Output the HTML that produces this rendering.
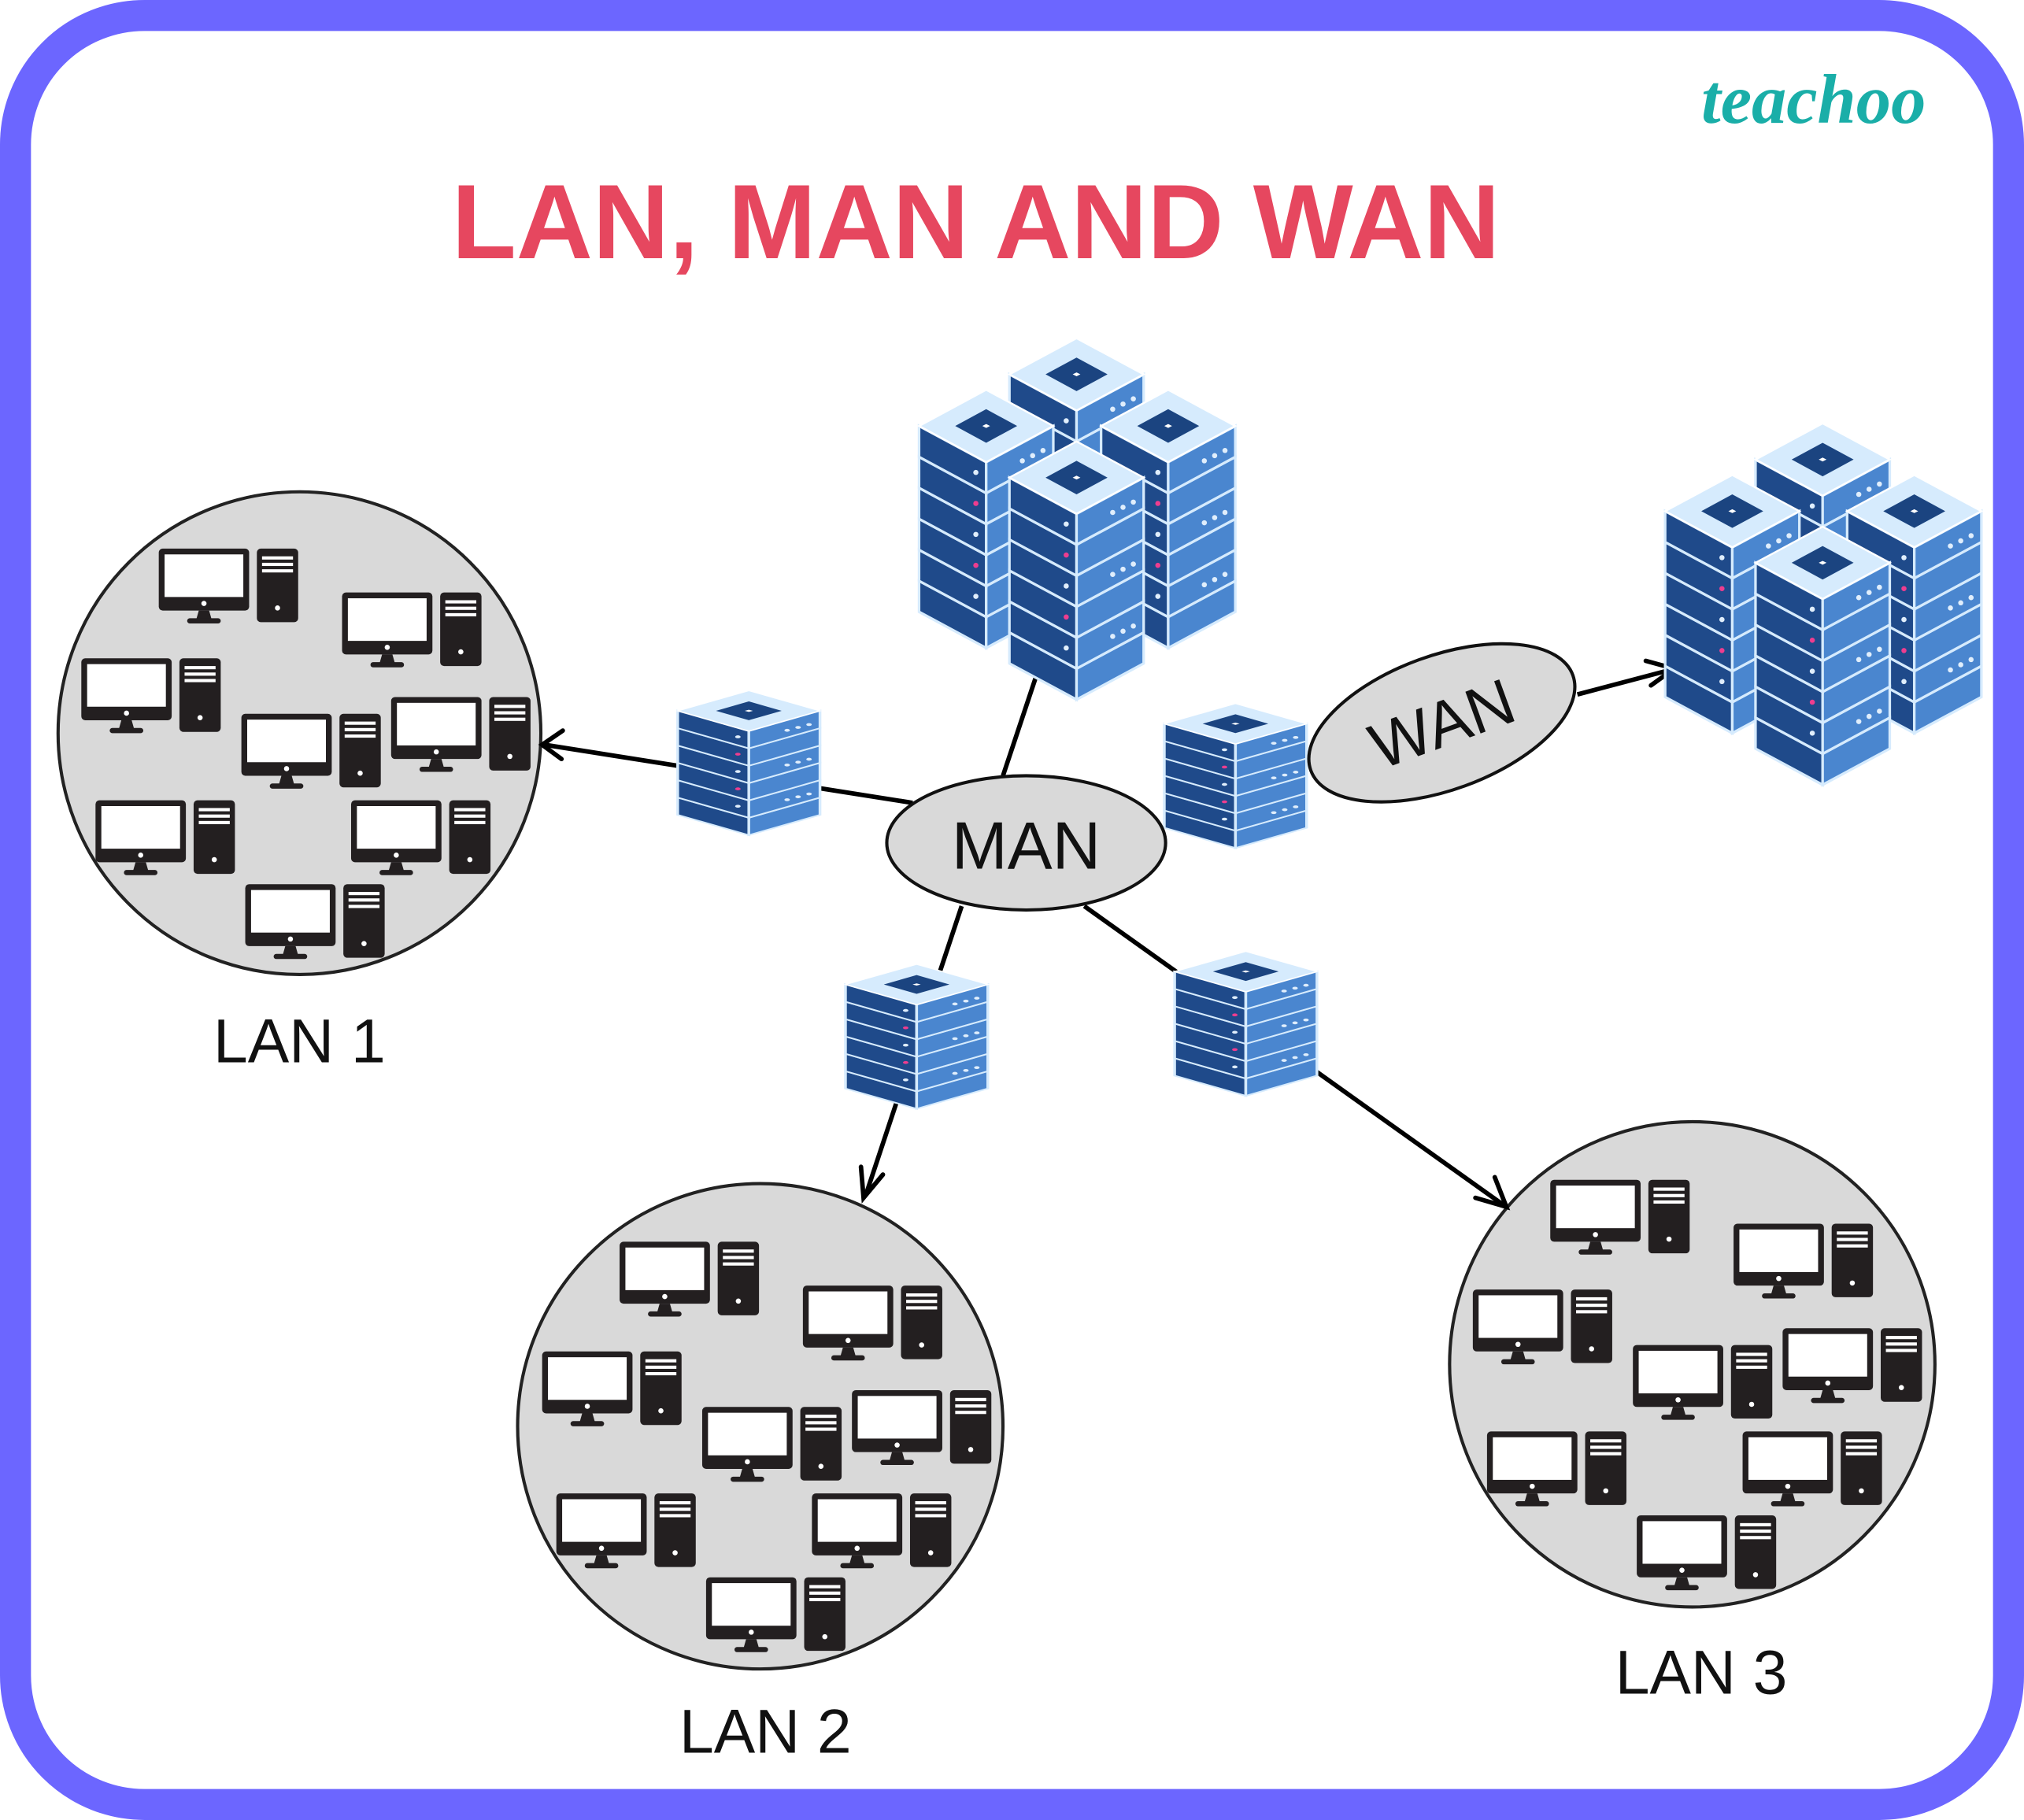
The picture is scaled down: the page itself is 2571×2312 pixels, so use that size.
<!DOCTYPE html>
<html><head><meta charset="utf-8"><style>
html,body{margin:0;padding:0;background:#fff}
svg{display:block}
</style></head><body>
<svg width="2571" height="2312" viewBox="0 0 1568 1410" xmlns="http://www.w3.org/2000/svg" xmlns:xlink="http://www.w3.org/1999/xlink">
<defs>
<g id="pc">
  <rect x="0" y="0" width="70" height="48" rx="3" fill="#231f20"/>
  <rect x="4.5" y="4.5" width="61" height="33" fill="#fff"/>
  <circle cx="35" cy="42.5" r="2" fill="#fff"/>
  <polygon points="31,48 39,48 41,55 29,55" fill="#231f20"/>
  <rect x="22" y="54" width="26" height="4" rx="2" fill="#231f20"/>
  <rect x="76" y="0" width="32" height="57" rx="3" fill="#231f20"/>
  <rect x="80" y="6" width="24" height="2.5" fill="#fff"/>
  <rect x="80" y="11" width="24" height="2.5" fill="#fff"/>
  <rect x="80" y="16" width="24" height="2.5" fill="#fff"/>
  <circle cx="92" cy="46" r="2" fill="#fff"/>
</g>
<g id="lan">
  <use xlink:href="#pc" x="123" y="425"/>
  <use xlink:href="#pc" x="265" y="459"/>
  <use xlink:href="#pc" x="63" y="510"/>
  <use xlink:href="#pc" x="187" y="553"/>
  <use xlink:href="#pc" x="303" y="540"/>
  <use xlink:href="#pc" x="74" y="620"/>
  <use xlink:href="#pc" x="272" y="620"/>
  <use xlink:href="#pc" x="190" y="685"/>
</g>
<g id="col">
  <g stroke="#d6ebfd" stroke-width="2">
  <polygon points="0,148 52,176 52,200 0,172" fill="#1f4a8a"/><polygon points="52,176 104,148 104,172 52,200" fill="#4a86cf"/>
  <polygon points="0,124 52,152 52,176 0,148" fill="#1f4a8a"/><polygon points="52,152 104,124 104,148 52,176" fill="#4a86cf"/>
  <polygon points="0,100 52,128 52,152 0,124" fill="#1f4a8a"/><polygon points="52,128 104,100 104,124 52,152" fill="#4a86cf"/>
  <polygon points="0,76 52,104 52,128 0,100" fill="#1f4a8a"/><polygon points="52,104 104,76 104,100 52,128" fill="#4a86cf"/>
  <polygon points="0,52 52,80 52,104 0,76" fill="#1f4a8a"/><polygon points="52,80 104,52 104,76 52,104" fill="#4a86cf"/>
  <polygon points="0,28 52,56 52,80 0,52" fill="#1f4a8a"/><polygon points="52,56 104,28 104,52 52,80" fill="#4a86cf"/>
  </g>
  <g fill="#e0eefc">
  <circle cx="80" cy="55" r="2"/><circle cx="88" cy="51" r="2"/><circle cx="96" cy="47" r="2"/>
  <circle cx="80" cy="103" r="2"/><circle cx="88" cy="99" r="2"/><circle cx="96" cy="95" r="2"/>
  <circle cx="80" cy="151" r="2"/><circle cx="88" cy="147" r="2"/><circle cx="96" cy="143" r="2"/>
  <circle cx="44" cy="64" r="2"/><circle cx="44" cy="112" r="2"/><circle cx="44" cy="160" r="2"/>
  </g>
  <circle cx="44" cy="88" r="2" fill="#ee3d8f"/><circle cx="44" cy="136" r="2" fill="#ee3d8f"/>
  <polygon points="0,28 52,0 104,28 52,56" fill="#d6ebfd" stroke="#fff" stroke-width="1.5"/>
  <polygon points="28,28 52,15 76,28 52,41" fill="#1b4480"/>
  <polygon points="49,28 52,26.5 55,28 52,29.5" fill="#fff"/>
</g>
<g id="small">
  <g transform="scale(1.06,0.56)"><use xlink:href="#col"/></g>
</g>
</defs>

<rect x="12" y="12" width="1544" height="1386" rx="100" fill="#fff" stroke="#6c66ff" stroke-width="24"/>

<text x="1405" y="95" text-anchor="middle" font-family="Liberation Serif, serif" font-style="italic" font-weight="bold" font-size="54" fill="#1aaea8">teachoo</text>
<text x="756" y="200" text-anchor="middle" font-family="Liberation Sans, sans-serif" font-weight="bold" font-size="82" fill="#e6475f">LAN, MAN AND WAN</text>

<circle cx="232" cy="568" r="187" fill="#d9d9d9" stroke="#222" stroke-width="2.5"/>
<circle cx="589" cy="1105" r="188" fill="#d9d9d9" stroke="#222" stroke-width="2.5"/>
<circle cx="1311" cy="1057" r="188" fill="#d9d9d9" stroke="#222" stroke-width="2.5"/>
<use xlink:href="#lan"/>
<use xlink:href="#lan" x="357" y="537"/>
<use xlink:href="#lan" x="1078" y="489"/>

<g font-family="Liberation Sans, sans-serif" font-size="48" fill="#111" text-anchor="middle">
<text x="232" y="823">LAN 1</text>
<text x="593" y="1358">LAN 2</text>
<text x="1318" y="1312">LAN 3</text>
</g>

<g stroke="#000" stroke-width="3.5" fill="none">
<line x1="707" y1="622" x2="422" y2="577"/>
<line x1="777" y1="601" x2="805" y2="517"/>
<line x1="745" y1="702" x2="671" y2="925"/>
<line x1="840" y1="702" x2="1164" y2="933"/>
<line x1="995" y1="594" x2="1012" y2="590"/>
<line x1="1222" y1="538" x2="1294" y2="519"/>
</g>
<g stroke="#000" stroke-width="3.5" fill="none" stroke-linecap="round">
<polyline points="436,566 420,577 435,588" />
<polyline points="667,904 669,928 684,910"/>
<polyline points="1143,928 1167,935 1158,912"/>
<polyline points="1275,512 1297,518 1279,531"/>
</g>

<g>
<use xlink:href="#col" x="782" y="262"/>
<use xlink:href="#col" x="712" y="302"/>
<use xlink:href="#col" x="853" y="302"/>
<use xlink:href="#col" x="782" y="342"/>
</g>
<g>
<use xlink:href="#col" x="1360" y="328"/>
<use xlink:href="#col" x="1290" y="368"/>
<use xlink:href="#col" x="1431" y="368"/>
<use xlink:href="#col" x="1360" y="408"/>
</g>

<use xlink:href="#small" x="525" y="535"/>
<use xlink:href="#small" x="902" y="545"/>
<use xlink:href="#small" x="655" y="747"/>
<use xlink:href="#small" x="910" y="737"/>

<ellipse cx="795" cy="653" rx="108" ry="52" fill="#d9d9d9" stroke="#111" stroke-width="2.5"/>
<text x="795" y="673" text-anchor="middle" font-family="Liberation Sans, sans-serif" font-size="52" fill="#111">MAN</text>
<g transform="rotate(-20 1117 560)">
<ellipse cx="1117" cy="560" rx="108" ry="52" fill="#d9d9d9" stroke="#111" stroke-width="2.5"/>
<text x="1117" y="578" text-anchor="middle" font-family="Liberation Sans, sans-serif" font-size="50" fill="#111">WAN</text>
</g>
</svg>
</body></html>
